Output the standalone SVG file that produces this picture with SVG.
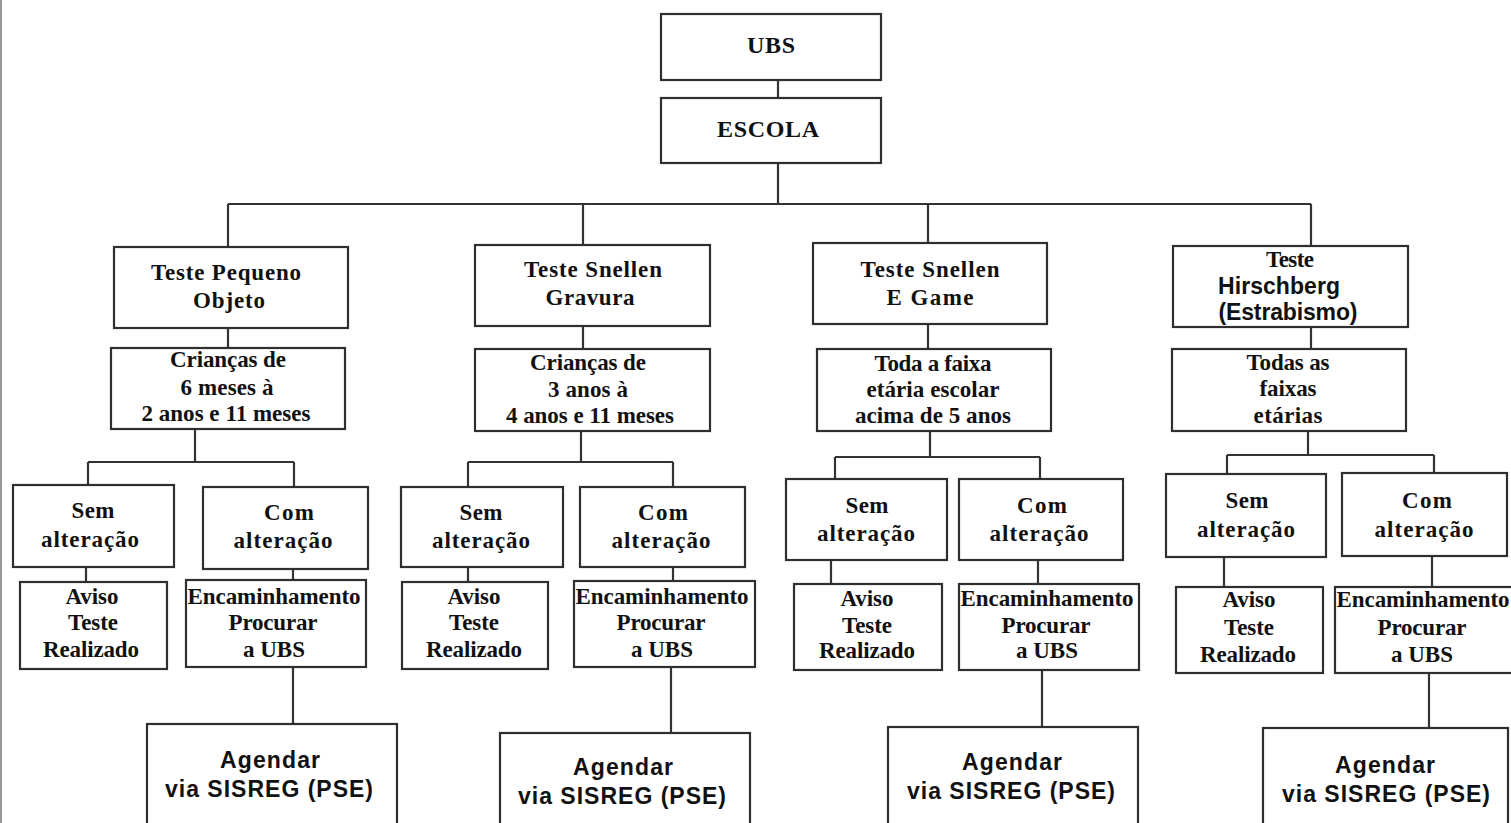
<svg xmlns="http://www.w3.org/2000/svg" width="1511" height="823" viewBox="0 0 1511 823">
<style>
.b{fill:#fff;stroke:#2f2f2f;stroke-width:2.2}
.c{fill:none;stroke:#333;stroke-width:2.2}
.s{font-family:"Liberation Serif","Times New Roman",serif;font-weight:bold;font-size:23px;fill:#111;text-anchor:middle}
.h{font-family:"Liberation Serif","Times New Roman",serif;font-weight:bold;font-size:24px;fill:#111;text-anchor:middle}
.t{font-family:"Liberation Sans",Arial,sans-serif;font-weight:bold;font-size:23px;fill:#111;text-anchor:middle}
</style>
<rect x="0" y="0" width="1511" height="823" fill="#fff"/>
<line x1="1" y1="0" x2="1" y2="823" stroke="#999" stroke-width="2"/>
<g id="connectors">
<path class="c" d="M778,80V98M778,163V204M228,204H1311M228,204V247M583,204V245M928,204V243M1311,204V246"/>
<path class="c" d="M228,328V348M195,429V462M88,462H294M88,462V485M294,462V487M86,567V582M293,569V580M293,667V724"/>
<path class="c" d="M583,326V349M581,431V462M468,462H673M468,462V487M673,462V487M468,567V582M673,567V581M671,667V733"/>
<path class="c" d="M928,324V349M930,431V457M835,457H1040M835,457V479M1040,457V479M831,560V584M1038,560V584M1042,670V727"/>
<path class="c" d="M1311,327V349M1308,431V455M1227,455H1434M1227,455V474M1434,455V473M1224,557V587M1432,556V587M1429,673V728"/>
</g>
<g id="ubs"><rect class="b" x="661" y="14" width="220" height="66"/><text class="h" x="771" y="53" textLength="48" lengthAdjust="spacing">UBS</text></g>
<g id="escola"><rect class="b" x="661" y="98" width="220" height="65"/><text class="h" x="768" y="137" textLength="102" lengthAdjust="spacing">ESCOLA</text></g>

<!-- Column 1 -->
<g id="teste-pequeno"><rect class="b" x="114" y="247" width="234" height="81"/>
<text class="s" x="226" y="280" textLength="150" lengthAdjust="spacing">Teste Pequeno</text>
<text class="s" x="229" y="308" textLength="72" lengthAdjust="spacing">Objeto</text></g>
<g id="criancas-1"><rect class="b" x="111" y="348" width="234" height="81"/>
<text class="s" x="228" y="367" textLength="116" lengthAdjust="spacing">Crianças de</text>
<text class="s" x="227" y="395" textLength="93" lengthAdjust="spacing">6 meses à</text>
<text class="s" x="226" y="421" textLength="169" lengthAdjust="spacing">2 anos e 11 meses</text></g>
<g id="sem-1"><rect class="b" x="13" y="485" width="161" height="82"/>
<text class="s" x="93" y="518" textLength="43" lengthAdjust="spacing">Sem</text>
<text class="s" x="90" y="547" textLength="98" lengthAdjust="spacing">alteração</text></g>
<g id="com-1"><rect class="b" x="203" y="487" width="165" height="82"/>
<text class="s" x="289" y="520" textLength="50" lengthAdjust="spacing">Com</text>
<text class="s" x="283" y="548" textLength="99" lengthAdjust="spacing">alteração</text></g>
<g id="aviso-1"><rect class="b" x="20" y="582" width="147" height="87"/>
<text class="s" x="92" y="604" textLength="53" lengthAdjust="spacing">Aviso</text>
<text class="s" x="93" y="630" textLength="50" lengthAdjust="spacing">Teste</text>
<text class="s" x="91" y="657" textLength="96" lengthAdjust="spacing">Realizado</text></g>
<g id="enc-1"><rect class="b" x="186" y="580" width="180" height="87"/>
<text class="s" x="274" y="604" textLength="173" lengthAdjust="spacing">Encaminhamento</text>
<text class="s" x="273" y="630" textLength="89" lengthAdjust="spacing">Procurar</text>
<text class="s" x="274" y="657" textLength="62" lengthAdjust="spacing">a UBS</text></g>
<g id="agendar-1"><rect class="b" x="147" y="724" width="250" height="120"/>
<text class="t" x="270" y="768" textLength="100" lengthAdjust="spacing">Agendar</text>
<text class="t" x="269" y="797" textLength="208" lengthAdjust="spacing">via SISREG (PSE)</text></g>

<!-- Column 2 -->
<g id="snellen-gravura"><rect class="b" x="475" y="245" width="235" height="81"/>
<text class="s" x="593" y="277" textLength="138" lengthAdjust="spacing">Teste Snellen</text>
<text class="s" x="590" y="305" textLength="89" lengthAdjust="spacing">Gravura</text></g>
<g id="criancas-2"><rect class="b" x="475" y="349" width="235" height="82"/>
<text class="s" x="588" y="370" textLength="116" lengthAdjust="spacing">Crianças de</text>
<text class="s" x="588" y="397" textLength="80" lengthAdjust="spacing">3 anos à</text>
<text class="s" x="590" y="423" textLength="168" lengthAdjust="spacing">4 anos e 11 meses</text></g>
<g id="sem-2"><rect class="b" x="401" y="487" width="162" height="80"/>
<text class="s" x="481" y="520" textLength="43" lengthAdjust="spacing">Sem</text>
<text class="s" x="481" y="548" textLength="98" lengthAdjust="spacing">alteração</text></g>
<g id="com-2"><rect class="b" x="580" y="487" width="165" height="80"/>
<text class="s" x="663" y="520" textLength="50" lengthAdjust="spacing">Com</text>
<text class="s" x="661" y="548" textLength="99" lengthAdjust="spacing">alteração</text></g>
<g id="aviso-2"><rect class="b" x="402" y="582" width="146" height="87"/>
<text class="s" x="474" y="604" textLength="53" lengthAdjust="spacing">Aviso</text>
<text class="s" x="474" y="630" textLength="50" lengthAdjust="spacing">Teste</text>
<text class="s" x="474" y="657" textLength="96" lengthAdjust="spacing">Realizado</text></g>
<g id="enc-2"><rect class="b" x="574" y="581" width="181" height="86"/>
<text class="s" x="662" y="604" textLength="173" lengthAdjust="spacing">Encaminhamento</text>
<text class="s" x="661" y="630" textLength="89" lengthAdjust="spacing">Procurar</text>
<text class="s" x="662" y="657" textLength="62" lengthAdjust="spacing">a UBS</text></g>
<g id="agendar-2"><rect class="b" x="500" y="733" width="250" height="110"/>
<text class="t" x="623" y="775" textLength="100" lengthAdjust="spacing">Agendar</text>
<text class="t" x="622" y="804" textLength="208" lengthAdjust="spacing">via SISREG (PSE)</text></g>

<!-- Column 3 -->
<g id="snellen-egame"><rect class="b" x="813" y="243" width="234" height="81"/>
<text class="s" x="930" y="277" textLength="139" lengthAdjust="spacing">Teste Snellen</text>
<text class="s" x="930" y="305" textLength="87" lengthAdjust="spacing">E Game</text></g>
<g id="toda-faixa"><rect class="b" x="817" y="349" width="234" height="82"/>
<text class="s" x="933" y="371" textLength="117" lengthAdjust="spacing">Toda a faixa</text>
<text class="s" x="933" y="397" textLength="133" lengthAdjust="spacing">etária escolar</text>
<text class="s" x="933" y="423" textLength="156" lengthAdjust="spacing">acima de 5 anos</text></g>
<g id="sem-3"><rect class="b" x="786" y="479" width="161" height="81"/>
<text class="s" x="867" y="513" textLength="43" lengthAdjust="spacing">Sem</text>
<text class="s" x="866" y="541" textLength="98" lengthAdjust="spacing">alteração</text></g>
<g id="com-3"><rect class="b" x="959" y="479" width="164" height="81"/>
<text class="s" x="1042" y="513" textLength="50" lengthAdjust="spacing">Com</text>
<text class="s" x="1039" y="541" textLength="99" lengthAdjust="spacing">alteração</text></g>
<g id="aviso-3"><rect class="b" x="794" y="584" width="148" height="86"/>
<text class="s" x="867" y="606" textLength="53" lengthAdjust="spacing">Aviso</text>
<text class="s" x="867" y="633" textLength="50" lengthAdjust="spacing">Teste</text>
<text class="s" x="867" y="658" textLength="96" lengthAdjust="spacing">Realizado</text></g>
<g id="enc-3"><rect class="b" x="959" y="584" width="180" height="86"/>
<text class="s" x="1047" y="606" textLength="173" lengthAdjust="spacing">Encaminhamento</text>
<text class="s" x="1046" y="633" textLength="89" lengthAdjust="spacing">Procurar</text>
<text class="s" x="1047" y="658" textLength="62" lengthAdjust="spacing">a UBS</text></g>
<g id="agendar-3"><rect class="b" x="888" y="727" width="250" height="115"/>
<text class="t" x="1012" y="770" textLength="100" lengthAdjust="spacing">Agendar</text>
<text class="t" x="1011" y="799" textLength="208" lengthAdjust="spacing">via SISREG (PSE)</text></g>

<!-- Column 4 -->
<g id="hirschberg"><rect class="b" x="1173" y="246" width="235" height="81"/>
<text class="s" x="1290" y="267" textLength="48" lengthAdjust="spacing">Teste</text>
<text class="t" x="1279" y="294" font-size="21" textLength="122" lengthAdjust="spacing">Hirschberg</text>
<text class="t" x="1288" y="320" font-size="21" textLength="139" lengthAdjust="spacing">(Estrabismo)</text></g>
<g id="todas-faixas"><rect class="b" x="1172" y="349" width="234" height="82"/>
<text class="s" x="1288" y="370" textLength="83" lengthAdjust="spacing">Todas as</text>
<text class="s" x="1288" y="396" textLength="57" lengthAdjust="spacing">faixas</text>
<text class="s" x="1288" y="423" textLength="69" lengthAdjust="spacing">etárias</text></g>
<g id="sem-4"><rect class="b" x="1166" y="474" width="160" height="83"/>
<text class="s" x="1247" y="508" textLength="43" lengthAdjust="spacing">Sem</text>
<text class="s" x="1246" y="537" textLength="98" lengthAdjust="spacing">alteração</text></g>
<g id="com-4"><rect class="b" x="1342" y="473" width="165" height="83"/>
<text class="s" x="1427" y="508" textLength="50" lengthAdjust="spacing">Com</text>
<text class="s" x="1424" y="537" textLength="99" lengthAdjust="spacing">alteração</text></g>
<g id="aviso-4"><rect class="b" x="1176" y="587" width="147" height="86"/>
<text class="s" x="1249" y="607" textLength="53" lengthAdjust="spacing">Aviso</text>
<text class="s" x="1249" y="635" textLength="50" lengthAdjust="spacing">Teste</text>
<text class="s" x="1248" y="662" textLength="96" lengthAdjust="spacing">Realizado</text></g>
<g id="enc-4"><rect class="b" x="1335" y="587" width="182" height="86"/>
<text class="s" x="1423" y="607" textLength="173" lengthAdjust="spacing">Encaminhamento</text>
<text class="s" x="1422" y="635" textLength="89" lengthAdjust="spacing">Procurar</text>
<text class="s" x="1422" y="662" textLength="62" lengthAdjust="spacing">a UBS</text></g>
<g id="agendar-4"><rect class="b" x="1263" y="728" width="245" height="115"/>
<text class="t" x="1385" y="773" textLength="100" lengthAdjust="spacing">Agendar</text>
<text class="t" x="1386" y="802" textLength="208" lengthAdjust="spacing">via SISREG (PSE)</text></g>
</svg>
